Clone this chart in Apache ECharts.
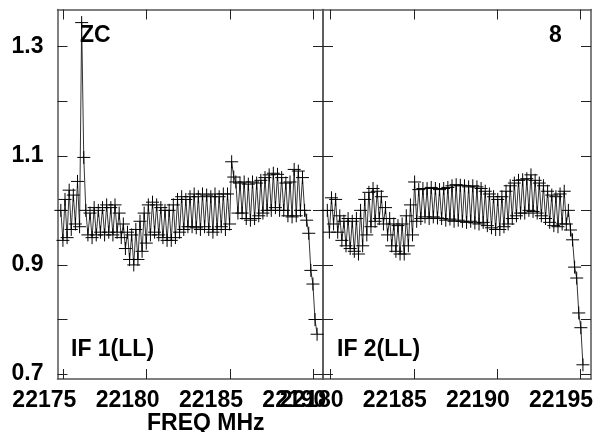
<!DOCTYPE html>
<html>
<head>
  <meta charset="utf-8">
  <title>ZC 8</title>
  <script src="https://cdn.jsdelivr.net/npm/echarts@6.0.0/dist/echarts.min.js"></script>
  <style>
    body { margin: 0; padding: 0; background: #fff; }
    #main { width: 598px; height: 432px; }
  </style>
</head>
<body>
  <div id="main"></div>
  <script type="text/javascript">
    // channel frequencies: start (MHz) and channel width per IF
    var if1Start = 22174.85
    var if2Start = 22179.8
    var chanWidth = 0.25

    // amplitude, top and bottom of each channel's swing
    var if1Upper = [1.00, 1.02, 1.037, 1.028, 1.053, 1.344, 1.00, 0.995, 1.005, 1.00,
      1.005, 1.01, 1.005, 1.01, 0.995, 0.975, 0.96, 0.955, 0.965, 0.98,
      0.995, 1.01, 1.015, 1.01, 1.005, 1.00, 1.00, 1.01, 1.02, 1.025,
      1.02, 1.025, 1.03, 1.025, 1.03, 1.028, 1.025, 1.03, 1.025, 1.03,
      1.03, 1.089, 1.052, 1.05, 1.052, 1.048, 1.052, 1.05, 1.055, 1.06,
      1.065, 1.068, 1.066, 1.06, 1.05, 1.052, 1.075, 1.072, 1.06, 0.982,
      0.89, 0.80]
    var if1Lower = [0.945, 0.95, 0.965, 0.975, 0.97, 1.097, 0.955, 0.95, 0.955, 0.96,
      0.955, 0.96, 0.955, 0.96, 0.95, 0.93, 0.91, 0.90, 0.91, 0.925,
      0.94, 0.955, 0.96, 0.955, 0.95, 0.945, 0.945, 0.95, 0.96, 0.965,
      0.97, 0.97, 0.968, 0.965, 0.97, 0.965, 0.96, 0.965, 0.97, 0.965,
      0.975, 1.061, 0.995, 0.995, 0.985, 0.982, 0.985, 0.99, 0.995, 1.0,
      1.0, 1.005, 1.0, 1.0, 0.99, 0.988, 0.99, 1.0, 1.0, 0.958,
      0.865, 0.773]

    var if2Upper = [1.00, 1.023, 1.02, 0.99, 0.98, 0.985, 0.98, 0.985, 1.00, 1.02,
      1.033, 1.04, 1.035, 1.025, 1.005, 0.985, 0.975, 0.972, 0.975, 0.99,
      1.01, 1.052, 1.038, 1.04, 1.04, 1.042, 1.04, 1.038, 1.04, 1.042,
      1.045, 1.047, 1.046, 1.045, 1.043, 1.045, 1.043, 1.04, 1.035, 1.03,
      1.025, 1.02, 1.025, 1.035, 1.045, 1.05, 1.055, 1.056, 1.058, 1.065,
      1.055, 1.05, 1.045, 1.035, 1.028, 1.025, 1.03, 1.035, 1.00, 0.946,
      0.876, 0.785]
    var if2Lower = [0.96, 0.975, 0.96, 0.945, 0.935, 0.93, 0.925, 0.92, 0.935, 0.955,
      0.97, 0.98, 0.985, 0.975, 0.955, 0.935, 0.925, 0.92, 0.92, 0.935,
      0.955, 0.98, 0.985, 0.988, 0.985, 0.988, 0.986, 0.985, 0.982, 0.984,
      0.98, 0.982, 0.98, 0.978, 0.98, 0.977, 0.975, 0.978, 0.972, 0.968,
      0.965, 0.965, 0.97, 0.975, 0.985, 0.99, 0.995, 0.995, 1.0, 0.998,
      0.995, 0.99, 0.985, 0.978, 0.972, 0.97, 0.975, 0.975, 0.964, 0.896,
      0.812, 0.717]

    var yTicks = [0.7, 0.8, 0.9, 1.0, 1.1, 1.2, 1.3]
    var yLabels = [0.7, 0.9, 1.1, 1.3]
    var x1Ticks = [22175, 22180, 22185, 22190]
    var x2Ticks = [22180, 22185, 22190, 22195]

    var yMin = 0.691, yMax = 1.368
    var x1Min = 22174.65, x1Max = 22190.58
    var x2Min = 22179.54, x2Max = 22195.66

    function zigzag(start, upper, lower) {
      var pts = []
      for (var i = 0; i < upper.length; i++) {
        pts.push([start + i * chanWidth, upper[i]])
        pts.push([start + (i + 0.5) * chanWidth, lower[i]])
      }
      return pts
    }

    var font = 'Liberation Sans, Arial, sans-serif'
    var fontSize = 23
    var axisCol = '#555'

    function xAx(grid, min, max, ticks, pos, labels) {
      return {
        type: 'value', gridIndex: grid, min: min, max: max, position: pos,
        axisLine: { show: true, onZero: false, lineStyle: { color: axisCol, width: 1.5 } },
        axisTick: { show: true, inside: true, length: 10, customValues: ticks, lineStyle: { color: '#222', width: 1 } },
        axisLabel: {
          show: labels, customValues: ticks, margin: 10, padding: [0, 38, 0, 0],
          color: '#000', fontSize: fontSize, fontWeight: 'bold', fontFamily: font,
          formatter: function (v) { return String(v) }
        },
        splitLine: { show: false }
      }
    }
    function yAx(grid, pos, labels) {
      return {
        type: 'value', gridIndex: grid, min: yMin, max: yMax, position: pos,
        axisLine: { show: true, onZero: false, lineStyle: { color: axisCol, width: 1.5 } },
        axisTick: { show: true, inside: true, length: 10, customValues: yTicks, lineStyle: { color: '#222', width: 1 } },
        axisLabel: {
          show: labels, customValues: yLabels, margin: 14, color: '#000',
          fontSize: fontSize, fontWeight: 'bold', fontFamily: font,
          formatter: function (v) { return v.toFixed(1) }
        },
        splitLine: { show: false }
      }
    }

    var plus = 'path://M0,5L10,5M5,0L5,10'
    function series(x, y, data) {
      return {
        type: 'line', xAxisIndex: x, yAxisIndex: y, data: data,
        symbol: plus, symbolSize: 13, showAllSymbol: true,
        lineStyle: { color: '#000', width: 0.8 },
        itemStyle: { color: 'transparent', borderColor: '#000', borderWidth: 1 },
        animation: false
      }
    }

    var txt = 'bold ' + fontSize + 'px ' + font
    var chart = echarts.init(document.getElementById('main'))
    chart.setOption({
      animation: false,
      grid: [
        { left: 57.5, top: 9.5, width: 265.5, height: 369.5 },
        { left: 323, top: 9.5, width: 268, height: 369.5 }
      ],
      xAxis: [
        xAx(0, x1Min, x1Max, x1Ticks, 'bottom', true),
        xAx(0, x1Min, x1Max, x1Ticks, 'top', false),
        xAx(1, x2Min, x2Max, x2Ticks, 'bottom', true),
        xAx(1, x2Min, x2Max, x2Ticks, 'top', false)
      ],
      yAxis: [
        yAx(0, 'left', true),
        yAx(0, 'right', false),
        yAx(1, 'left', false),
        yAx(1, 'right', false)
      ],
      series: [
        series(0, 0, zigzag(if1Start, if1Upper, if1Lower)),
        series(2, 2, zigzag(if2Start, if2Upper, if2Lower))
      ],
      graphic: [
        { type: 'text', left: 80, top: 24, style: { text: 'ZC', font: txt, fill: '#000' } },
        { type: 'text', left: 549, top: 24, style: { text: '8', font: txt, fill: '#000' } },
        { type: 'text', left: 71, top: 338, style: { text: 'IF 1(LL)', font: txt, fill: '#000' } },
        { type: 'text', left: 337, top: 338, style: { text: 'IF 2(LL)', font: txt, fill: '#000' } },
        { type: 'text', left: 147, top: 412, style: { text: 'FREQ MHz', font: txt, fill: '#000' } }
      ]
    })
  </script>
</body>
</html>
